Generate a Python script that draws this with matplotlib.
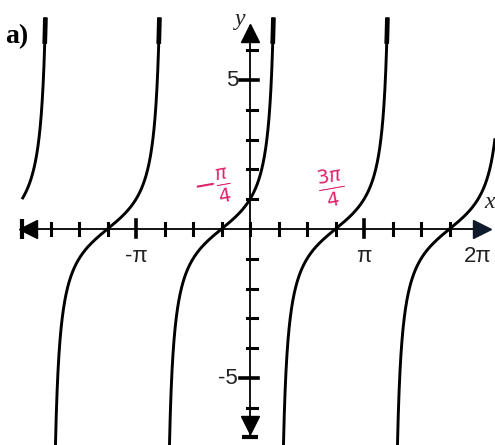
import numpy as np
import matplotlib
matplotlib.use("Agg")
import matplotlib.pyplot as plt

# Function y = tan(x + phase): phase shift and visible window
phase = np.pi / 4
period = np.pi
branch_ids = [-2, -1, 0, 1, 2]
y_top = 7.1          # where each branch is cut at the top
y_thick = 6.2        # upper part drawn heavier
x_min_curve = -2 * np.pi

# Axis ticks
x_tick_steps = np.arange(-7, 8)            # multiples of pi/4
x_tick_labels = {-4: "-π", 4: "π", 8: "2π"}
y_ticks = [-6, -5, -4, -3, -2, -1, 1, 2, 3, 4, 5, 6]
y_tick_labels = {5: "5", -5: "-5"}

# Handwritten notes at the zeros
notes = [(-np.pi / 4, r"$-\frac{\pi}{4}$", -9), (3 * np.pi / 4, r"$\frac{3\pi}{4}$", -4)]

W, H = 495, 445
fig = plt.figure(figsize=(W / 100, H / 100), dpi=100)
ax = fig.add_axes([0, 0, 1, 1])

# pixel scale: pi ~ 114 px, 1 y-unit ~ 29.8 px, origin at (250, 229)
sx = 114 / np.pi
sy = 29.8
x0p, y0p = 250, 229
ax.set_xlim(-x0p / sx, (W - x0p) / sx)
ax.set_ylim(-(H - y0p) / sy, y0p / sy)
ax.axis("off")
xlo, xhi = ax.get_xlim()
ylo, yhi = ax.get_ylim()
px = 1 / sx   # one pixel in x data units
py = 1 / sy   # one pixel in y data units

# axes lines
ax.plot([-2 * np.pi + 10 * px, 2 * np.pi + 5 * px], [0, 0], color="black", lw=1.3, zorder=2)
ax.plot([0, 0], [ylo + 8 * py, yhi - 26 * py], color="black", lw=1.3, zorder=2)

# arrow heads
ax.plot([-2 * np.pi + 6 * px], [0], marker="<", color="black", ms=13, zorder=3)
ax.plot([-2 * np.pi], [0], marker="|", color="black", ms=14, mew=3, zorder=3)
ax.plot([2 * np.pi + 4 * px], [0], marker=">", color="#111a2a", ms=13, zorder=3)
ax.plot([0], [yhi - 33 * py], marker="^", color="black", ms=13, zorder=3)
ax.plot([0], [ylo + 20 * py], marker="v", color="black", ms=13, zorder=3)
ax.plot([0], [ylo + 8 * py], marker="_", color="black", ms=12, mew=3, zorder=3)

# x ticks
for k in x_tick_steps:
    xv = k * np.pi / 4
    big = k in x_tick_labels
    h0, h1 = (9, 8) if big else (6, 6)
    ax.plot([xv, xv], [-h1 * py, h0 * py], color="black", lw=2.6 if big else 2.2, zorder=2)
for k, lab in x_tick_labels.items():
    ax.text(k * np.pi / 4, -17 * py, lab, ha="center", va="top",
            fontsize=16, family="Liberation Sans", color="#222222")

# y ticks
for yv in y_ticks:
    big = yv in y_tick_labels
    l0, l1 = (10, 8) if big else (3, 7)
    ax.plot([-l0 * px, l1 * px], [yv, yv], color="black", lw=2.6 if big else 2.2, zorder=2)
for yv, lab in y_tick_labels.items():
    ax.text(-12 * px, yv, lab, ha="right", va="center",
            fontsize=16, family="Liberation Sans", color="#222222")

# curve branches
for k in branch_ids:
    a = -period * 3 / 4 + k * period
    b = period / 4 + k * period
    xs = np.linspace(a + 1e-4, b - 1e-4, 4000)
    ys = np.tan(xs + phase)
    m = (xs >= max(x_min_curve, xlo)) & (xs <= xhi) & (ys <= y_top) & (ys >= ylo - 1)
    ax.plot(xs[m], ys[m], color="black", lw=2.1, solid_capstyle="butt", zorder=4)
    mt = m & (ys >= y_thick)
    if mt.any():
        ax.plot(xs[mt], ys[mt], color="black", lw=3.4, solid_capstyle="butt", zorder=4)

# axis names
ax.text(-10 * px, yhi - 20 * py, "y", ha="center", va="center", fontsize=17,
        family="Liberation Serif", style="italic", color="#222222")
ax.text(2 * np.pi + 12 * px, 26 * py, "x", ha="center", va="center", fontsize=17,
        family="Liberation Serif", style="italic", color="#222222")

# panel label
ax.text(xlo + 5 * px, yhi - 37 * py, "a)", ha="left", va="center", fontsize=20,
        family="Liberation Serif", weight="bold", color="black")

# handwritten notes
for xv, lab, dx in notes:
    ax.text(xv + dx * px, 41 * py, lab, ha="center", va="center", fontsize=20,
            color="#e0226a", rotation=10)

fig.savefig("out.png", dpi=100, facecolor="white")
